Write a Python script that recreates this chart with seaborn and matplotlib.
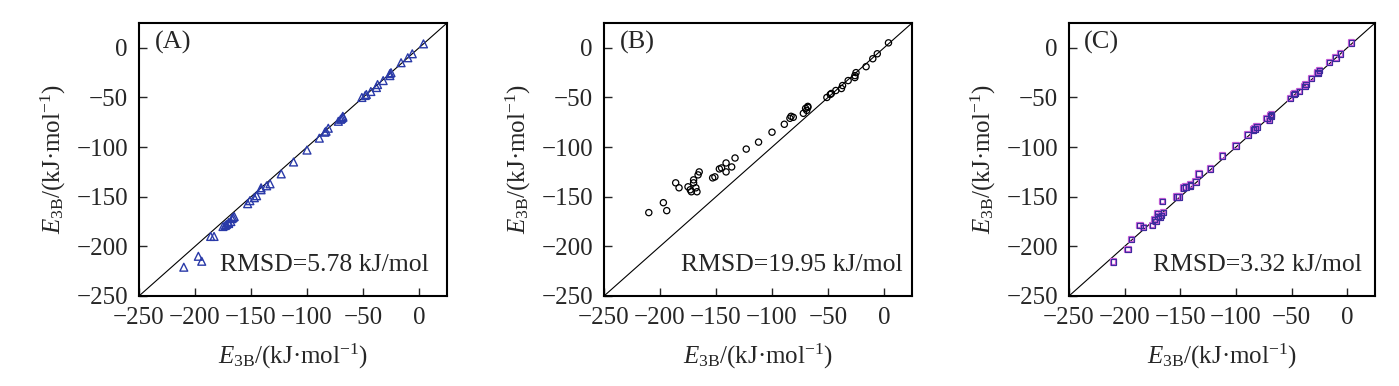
import numpy as np
import pandas as pd
import matplotlib
matplotlib.use("Agg")
import matplotlib.pyplot as plt
import seaborn as sns

# Reference three-body energies (kJ/mol), shared x values
e_ref = [-210, -197, -194, -186, -183, -175, -173, -172, -170, -170, -168, -167,
         -166, -165, -153, -151, -147, -145, -141, -141, -136, -133, -123, -112,
         -100, -89, -84, -83, -81, -72, -70, -69, -68, -68, -51, -48, -47, -43,
         -38, -37, -32, -26, -26, -25, -16, -10, -6, 4]

e_a = [-221, -210, -215, -190, -190, -180, -179, -178, -177, -176, -175, -172,
       -171, -170, -157, -154, -151, -149, -143, -141, -139, -137, -127, -115,
       -103, -91, -85, -84, -81, -74, -72, -71, -70, -69, -50, -48, -47, -44,
       -40, -37, -33, -28, -26, -25, -15, -10, -6, 4]

e_b = [-166, -156, -164, -136, -141, -140, -143, -145, -136, -133, -141, -145,
       -128, -125, -131, -130, -122, -121, -125, -116, -120, -111, -102, -95,
       -85, -77, -71, -69, -70, -66, -61, -63, -59, -60, -50, -47, -46, -43,
       -41, -38, -33, -30, -28, -25, -19, -11, -6, 5]

e_c = [-216, -203, -193, -179, -181, -179, -173, -175, -170, -167, -171, -169,
       -155, -166, -150, -150, -141, -140, -138, -139, -135, -127, -122, -109,
       -99, -88, -83, -82, -80, -71, -73, -68, -67, -69, -51, -47, -46, -44,
       -39, -37, -31, -26, -25, -23, -15, -10, -6, 5]

panel_labels = ["(A)", "(B)", "(C)"]
rmsd_labels = ["RMSD=5.78 kJ/mol", "RMSD=19.95 kJ/mol", "RMSD=3.32 kJ/mol"]
ticks = [-250, -200, -150, -100, -50, 0]
lims = (-250, 25)

sns.set_style("ticks")
plt.rcParams["font.family"] = ["Liberation Serif", "DejaVu Serif"]
plt.rcParams["mathtext.fontset"] = "custom"
plt.rcParams["mathtext.rm"] = "Liberation Serif"
plt.rcParams["mathtext.it"] = "Liberation Serif:italic"
plt.rcParams["axes.unicode_minus"] = True

fig = plt.figure(figsize=(13.99, 3.86), dpi=100)
W, H = 1399, 386
lefts = [139, 604, 1069]
widths = [308, 308, 306]
top, bottom = 23, 296
axes = [fig.add_axes([l / W, (H - bottom) / H, w / W, (bottom - top) / H])
        for l, w in zip(lefts, widths)]

label = r"$E_{\mathrm{3B}}$/(kJ·mol$^{-1}$)"
rmsd_x = [0.263, 0.249, 0.275]

series = [e_a, e_b, e_c]
for i, ax in enumerate(axes):
    df = pd.DataFrame({"ref": e_ref, "val": series[i]})
    ax.axline((0, 0), slope=1, color="black", lw=0.8, zorder=1)
    if i == 0:
        sns.scatterplot(data=df, x="ref", y="val", ax=ax, marker="^", s=32,
                        fc="none", ec="#2a3aa8", linewidth=1.0, zorder=3)
    elif i == 1:
        sns.scatterplot(data=df, x="ref", y="val", ax=ax, marker="o", s=20,
                        fc="none", ec="black", linewidth=0.9, zorder=3)
    else:
        sns.scatterplot(data=df, x="ref", y="val", ax=ax, marker="s", s=16,
                        fc="none", ec="#c45cd6", linewidth=1.6, zorder=3)
        sns.scatterplot(data=df, x="ref", y="val", ax=ax, marker="s", s=16,
                        fc="none", ec="#3b2c9c", linewidth=0.8, zorder=4)
    ax.set_xlim(lims)
    ax.set_ylim(lims)
    ax.set_xticks(ticks)
    ax.set_yticks(ticks)
    ax.tick_params(direction="in", length=6, width=1.0, labelsize=18, pad=8,
                   top=False, right=False)
    for sp in ax.spines.values():
        sp.set_linewidth(1.5)
        sp.set_color("black")
    ax.set_xlabel(label, fontsize=18, labelpad=9)
    ax.set_ylabel(label, fontsize=18, labelpad=6)
    ax.text(0.05, 0.93, panel_labels[i], transform=ax.transAxes, fontsize=19,
            ha="left", va="center")
    ax.text(rmsd_x[i], 0.115, rmsd_labels[i], transform=ax.transAxes,
            fontsize=18.5, ha="left", va="center")

fig.savefig("out.png", dpi=100)
